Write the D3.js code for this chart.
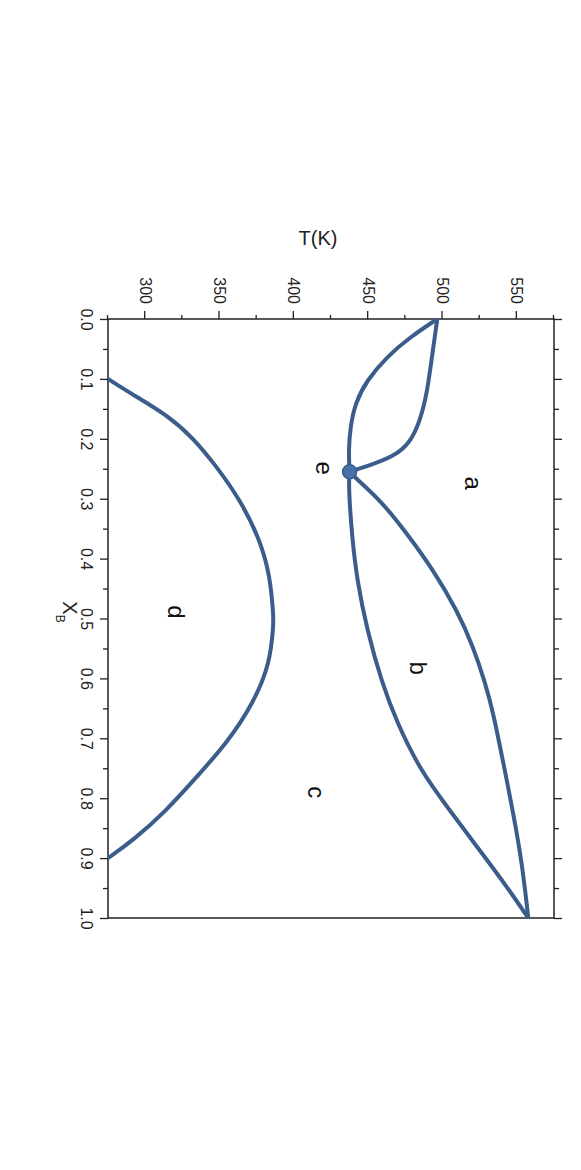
<!DOCTYPE html>
<html>
<head>
<meta charset="utf-8">
<script src="https://cdn.jsdelivr.net/npm/d3@7"></script>
<style>
  html, body { margin: 0; padding: 0; background: #fff; }
  svg { display: block; font-family: "Liberation Sans", Arial, Helvetica, sans-serif; }
</style>
</head>
<body>
<svg id="chart" width="581" height="1170"></svg>
<script>
// ---- data (X_B, T in K) ----
const liquidusA = [[0.0, 496.5], [0.063, 492.9], [0.124, 489.6], [0.169, 485.0], [0.207, 478.3], [0.230, 466.9], [0.244, 451.4], [0.255, 437.5]];
const solidusA  = [[0.0, 496.5], [0.030, 478.3], [0.063, 462.6], [0.102, 449.2], [0.140, 441.3], [0.180, 438.0], [0.219, 436.8], [0.255, 437.5]];
const liquidusB = [[0.255, 437.5], [0.265, 441.3], [0.302, 458.1], [0.358, 476.1], [0.419, 493.8], [0.486, 509.7], [0.547, 520.7], [0.608, 528.8], [0.658, 534.2], [0.741, 540.9], [0.825, 547.6], [0.908, 553.5], [1.0, 557.7]];
const solidusB  = [[0.255, 437.5], [0.280, 436.8], [0.363, 439.1], [0.436, 442.5], [0.519, 449.2], [0.608, 459.3], [0.674, 469.4], [0.753, 485.0], [0.814, 503.0], [0.881, 523.2], [0.948, 543.4], [1.0, 557.7]];
const miscibilityDome = [[0.1, 275.0], [0.127, 292.1], [0.160, 314.6], [0.199, 332.5], [0.247, 348.2], [0.302, 363.9], [0.369, 377.4], [0.430, 384.1], [0.497, 386.3], [0.508, 386.3], [0.574, 384.1], [0.641, 372.9], [0.708, 355.0], [0.764, 334.8], [0.820, 314.6], [0.870, 292.1], [0.9, 275.0]];
const eutectic = [[0.255, 437.5]];
const regionLabels = ["a", "b", "c", "d", "e"];
const regionX = [0.274, 0.583, 0.790, 0.489, 0.249];
const regionT = [520.7, 483.7, 415.1, 320.9, 420.5];
const xTicks = [0.0, 0.1, 0.2, 0.3, 0.4, 0.5, 0.6, 0.7, 0.8, 0.9, 1.0];
const tTicks = [300, 350, 400, 450, 500, 550];
const xDomain = [0, 1];
const tDomain = [275, 575];

// ---- layout: draw an ordinary chart, then rotate it 90° clockwise ----
const W = 599;   // X_B extent (screen vertical after rotation)
const H = 446;   // T extent (screen horizontal after rotation)
const frameRight = 554, frameTop = 319;
const color = "#3b5d8b";

const svg = d3.select("#chart");
const g = svg.append("g").attr("transform", `translate(${frameRight},${frameTop}) rotate(90)`);

const x = d3.scaleLinear().domain(xDomain).range([0, W]);
const y = d3.scaleLinear().domain(tDomain).range([H, 0]);

function styleAxis(sel) {
  sel.selectAll("path.domain").remove();
  sel.selectAll("line").attr("stroke", "#222").attr("stroke-width", 1.3);
  sel.selectAll("text").attr("font-size", 16).attr("fill", "#222")
     .attr("font-family", "'Liberation Sans', Arial, sans-serif");
}

// minor ticks
const xMinor = d3.range(0.05, 1.0, 0.1);
const tMinor = d3.range(275, 576, 25).filter(v => v % 50 !== 0);

// X_B axis (bottom of unrotated frame -> left side on screen)
g.append("g").attr("transform", `translate(0,${H})`)
  .call(d3.axisBottom(x).tickValues(xTicks).tickFormat(d3.format(".1f")).tickSize(8).tickPadding(8))
  .call(styleAxis);
g.append("g").attr("transform", `translate(0,${H})`)
  .call(d3.axisBottom(x).tickValues(xMinor).tickFormat("").tickSize(5))
  .call(styleAxis);
// mirrored ticks (top of unrotated frame -> right side on screen)
g.append("g")
  .call(d3.axisTop(x).tickValues(xTicks).tickFormat("").tickSize(8))
  .call(styleAxis);
g.append("g")
  .call(d3.axisTop(x).tickValues(xMinor).tickFormat("").tickSize(5))
  .call(styleAxis);
// T axis (left of unrotated frame -> top on screen)
g.append("g")
  .call(d3.axisLeft(y).tickValues(tTicks).tickSize(8).tickPadding(7))
  .call(styleAxis);
g.append("g")
  .call(d3.axisLeft(y).tickValues(tMinor).tickFormat("").tickSize(4))
  .call(styleAxis);

// frame
g.append("rect").attr("x", 0).attr("y", 0).attr("width", W).attr("height", H)
  .attr("fill", "none").attr("stroke", "#222").attr("stroke-width", 1.5);

// curves
const line = d3.line().x(d => x(d[0])).y(d => y(d[1])).curve(d3.curveBasis);
const clip = svg.append("defs").append("clipPath").attr("id", "plotclip");
clip.append("rect").attr("x", 0).attr("y", 0).attr("width", W).attr("height", H);
const curves = g.append("g").attr("clip-path", "url(#plotclip)");
[liquidusA, solidusA, liquidusB, solidusB, miscibilityDome].forEach(data => {
  curves.append("path").datum(data).attr("d", line)
    .attr("fill", "none").attr("stroke", color).attr("stroke-width", 4)
    .attr("stroke-linejoin", "round").attr("stroke-linecap", "round");
});

// eutectic point
g.selectAll("circle.eu").data(eutectic).join("circle")
  .attr("class", "eu")
  .attr("cx", d => x(d[0])).attr("cy", d => y(d[1])).attr("r", 7)
  .attr("fill", "#4672aa").attr("stroke", color).attr("stroke-width", 1.5);

// region labels
g.selectAll("text.region").data(regionLabels).join("text")
  .attr("class", "region")
  .attr("x", (d, i) => x(regionX[i])).attr("y", (d, i) => y(regionT[i]))
  .attr("text-anchor", "middle").attr("dominant-baseline", "central")
  .attr("font-size", 24).attr("fill", "#111")
  .text(d => d);

// axis titles
svg.append("text").attr("x", 318).attr("y", 245)
  .attr("text-anchor", "middle").attr("font-size", 20).attr("fill", "#222")
  .text("T(K)");

const xt = svg.append("text").attr("x", 0).attr("y", 0)
  .attr("transform", "translate(63,612) rotate(90)")
  .attr("text-anchor", "middle").attr("font-size", 20).attr("fill", "#222");
xt.append("tspan").text("X");
xt.append("tspan").attr("font-size", 12).attr("dy", 7).text("B");
</script>
</body>
</html>
